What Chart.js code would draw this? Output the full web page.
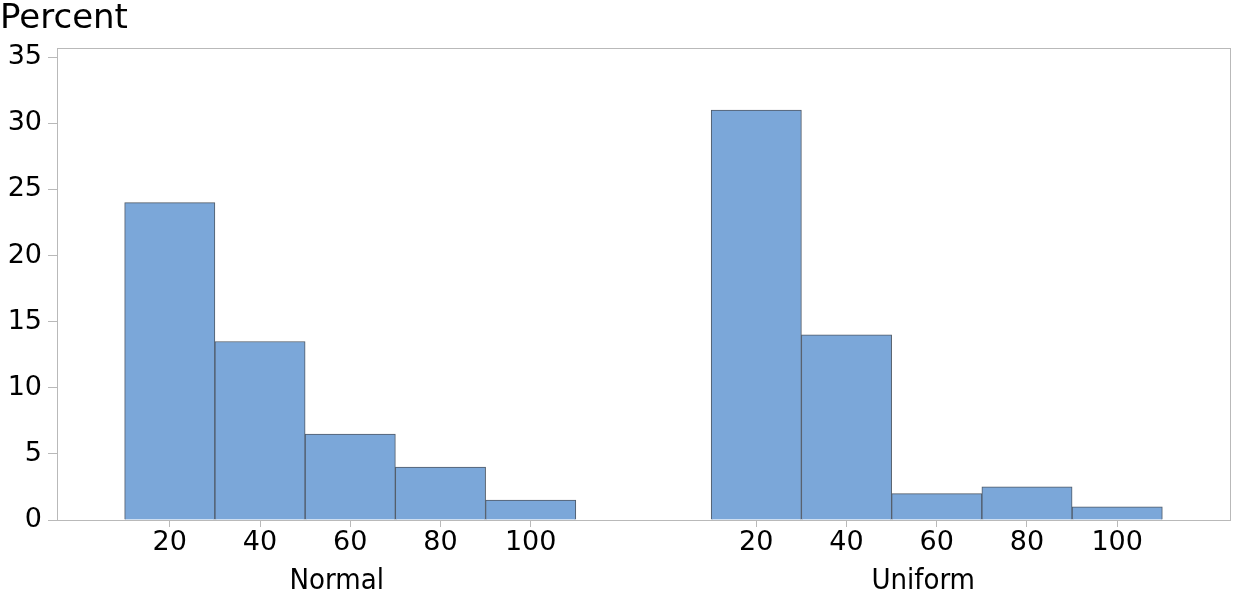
<!DOCTYPE html>
<html>
<head>
<meta charset="utf-8">
<script src="https://cdn.jsdelivr.net/npm/chart.js@4.4.1/dist/chart.umd.min.js"></script>
<style>
  html, body { margin: 0; padding: 0; background: #fff; }
  #wrap { width: 1234px; height: 590px; }
</style>
</head>
<body>
<div id="wrap"><canvas id="hist"></canvas></div>
<script>
// histogram data (percent per bin), bins centred on 20..100
const binCenters = [20, 40, 60, 80, 100];
const normalPct = [24, 13.5, 6.5, 4, 1.5];
const uniformPct = [31, 14, 2, 2.5, 1];
const panelNames = ["Normal", "Uniform"];
const yTicks = [0, 5, 10, 15, 20, 25, 30, 35];

// both panels share one linear x axis, each panel spans -5..125
const PANEL_SPAN = 130;
const X_MIN = -5;
const X_MAX = X_MIN + PANEL_SPAN * 2;
const PANEL_LABEL_AT = 57;

const GRAY = "#b9b9b9";
const BAR_FILL = "#7ba7d9";
const BAR_EDGE = "#4f5966";
const TICK_FONT = { family: "DejaVu Sans", size: 27 };

function toPoints(vals, panel) {
  return vals.map((v, i) => ({ x: binCenters[i] + panel * PANEL_SPAN, y: v }));
}

const xTickValues = [];
panelNames.forEach((_, p) => binCenters.forEach(c => xTickValues.push(c + p * PANEL_SPAN)));

// light frame around the plot area
const framePlugin = {
  id: "frame",
  afterDraw(chart) {
    const a = chart.chartArea;
    const c = chart.ctx;
    c.save();
    c.strokeStyle = GRAY;
    c.lineWidth = 1;
    c.strokeRect(Math.round(a.left) + 0.5, Math.round(a.top) + 0.5,
      Math.round(a.right - a.left), Math.round(a.bottom - a.top));
    c.restore();
  }
};

new Chart(document.getElementById("hist"), {
  type: "bar",
  data: {
    datasets: [
      { label: panelNames[0], data: toPoints(normalPct, 0) },
      { label: panelNames[1], data: toPoints(uniformPct, 1) }
    ].map(d => Object.assign(d, {
      backgroundColor: BAR_FILL,
      borderColor: BAR_EDGE,
      borderWidth: 1,
      barPercentage: 1,
      categoryPercentage: 1,
      grouped: false
    }))
  },
  options: {
    responsive: true,
    maintainAspectRatio: false,
    animation: false,
    layout: { padding: { left: 0, right: 4, top: 0, bottom: 0 } },
    plugins: {
      legend: { display: false },
      tooltip: { enabled: false },
      title: {
        display: true,
        text: "Percent",
        align: "start",
        color: "#000",
        font: { family: "DejaVu Sans", size: 34, weight: "normal", lineHeight: 0.9 },
        padding: { top: 4, bottom: 13.4 }
      }
    },
    scales: {
      x: {
        type: "linear",
        position: "bottom",
        min: X_MIN,
        max: X_MAX,
        offset: false,
        afterBuildTicks(scale) {
          scale.ticks = xTickValues.map(v => ({ value: v }));
        },
        afterFit(scale) { scale.height = 36; },
        grid: { offset: false, drawOnChartArea: false, drawTicks: true, tickLength: 7, color: GRAY },
        border: { display: true, color: GRAY },
        ticks: {
          color: "#000",
          padding: 0,
          maxRotation: 0,
          autoSkip: false,
          font: TICK_FONT,
          callback: v => String(v > X_MIN + PANEL_SPAN ? v - PANEL_SPAN : v)
        }
      },
      panel: {
        type: "linear",
        position: "bottom",
        min: X_MIN,
        max: X_MAX,
        offset: false,
        afterBuildTicks(scale) {
          scale.ticks = panelNames.map((_, p) => ({ value: PANEL_LABEL_AT + p * PANEL_SPAN }));
        },
        afterFit(scale) { scale.height = 34; },
        grid: { display: false, offset: false },
        border: { display: false },
        ticks: {
          color: "#000",
          padding: 0,
          maxRotation: 0,
          autoSkip: false,
          font: { family: "'Liberation Sans Narrow', 'DejaVu Sans Condensed', sans-serif", size: 29 },
          callback: (v, i) => panelNames[i]
        }
      },
      y: {
        type: "linear",
        min: 0,
        max: 35.7,
        afterBuildTicks(scale) {
          scale.ticks = yTicks.map(v => ({ value: v }));
        },
        afterFit(scale) { scale.width = 57; },
        grid: { drawOnChartArea: false, drawTicks: true, tickLength: 9, color: GRAY },
        border: { display: true, color: GRAY },
        ticks: {
          color: "#000",
          padding: 6,
          font: TICK_FONT
        }
      }
    }
  },
  plugins: [framePlugin]
});
</script>
</body>
</html>
